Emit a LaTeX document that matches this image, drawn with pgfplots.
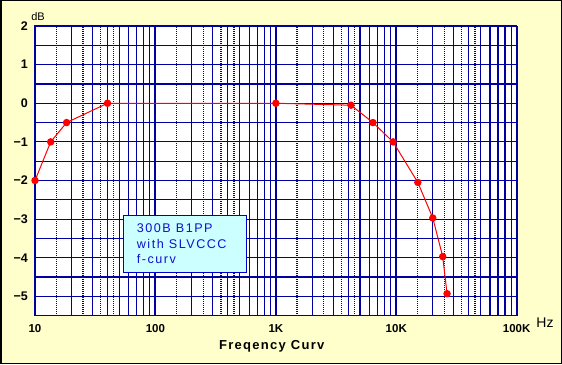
\documentclass[border=0pt]{standalone}
\usepackage{pgfplots}
\pgfplotsset{compat=1.18}
\usepackage{fontspec}
\setmainfont{Liberation Sans}
\newfontfamily\boxfont{Liberation Sans}[LetterSpace=12]
\newfontfamily\labfont{Liberation Sans}[LetterSpace=10]
\definecolor{bg}{HTML}{FFFFCC}
\definecolor{gridblue}{HTML}{0000A0}
\definecolor{boxfill}{HTML}{CCFFFF}
\definecolor{boxblue}{HTML}{0000CC}
\definecolor{boxtext}{HTML}{1010D0}
\begin{document}
\begin{tikzpicture}[x=1pt,y=1pt]
\fill[bg] (0,0) rectangle (562,364);
\draw[black, line width=1.5pt] (0.75,0.75) rectangle (561.25,363.25);
\begin{axis}[
  at={(35pt,48.3pt)}, anchor=south west,
  scale only axis, width=481.7pt, height=289.7pt,
  xmode=log, xmin=10, xmax=100000, ymin=-5.5, ymax=2,
  clip=false,
  axis background/.style={fill=white},
  axis line style={draw=gridblue, line width=1.5pt},
  xtick={10,100,1000,10000,100000},
  xticklabels={10,100,1K,10K,100K},
  minor xtick={20,30,40,50,60,70,80,90,200,300,400,500,600,700,800,900,2000,3000,4000,5000,6000,7000,8000,9000,20000,30000,40000,50000,60000,70000,80000,90000},
  ytick={-5,-4,-3,-2,-1,0,1,2},
  yticklabels={−5,−4,−3,−2,−1,0,1,2},
  minor ytick={-4.5,-3.5,-2.5,-1.5,-0.5,0.5,1.5},
  grid=both,
  major x grid style={draw=gridblue, line width=2pt},
  minor x grid style={draw=gridblue, line width=1.1pt},
  major y grid style={draw=gridblue, line width=1.2pt},
  minor y grid style={draw=gridblue, line width=1.2pt},
  major tick length=0pt, minor tick length=0pt,
  extra x ticks={15,25,35,45,150,250,350,450,1500,2500,3500,4500,15000,25000,35000,45000},
  extra x tick labels={},
  extra x tick style={grid=major, major x grid style={draw=gridblue, line width=1.2pt, dash pattern=on 1pt off 1pt}, major grid style={draw=gridblue, line width=1.2pt, dash pattern=on 1pt off 1pt}},
  xticklabel style={font=\bfseries\fontsize{11.5}{12}\selectfont, inner sep=0pt, yshift=-8.5pt},
  yticklabel style={font=\bfseries\fontsize{12.5}{13}\selectfont, inner sep=0pt, xshift=-7pt},
]
\addplot[color=red, line width=1pt, mark=*, mark size=3.2pt, mark options={fill=red, draw=red}] coordinates {
  (10,-2) (13.5,-1) (18.3,-0.5) (40,0) (1000,0) (4200,-0.05) (6400,-0.5) (9400,-1.0)
  (15100,-2.05) (20100,-2.97) (24300,-3.97) (26400,-4.93)
};
\end{axis}
\draw[boxblue, fill=boxfill, line width=1pt] (123.3,91.7) rectangle (246.7,148.3);
\node[anchor=base west, inner sep=0pt, text=boxtext, font=\boxfont\fontsize{12.6}{16}\selectfont] at (136.7,131.7) {300B B1PP};
\node[anchor=base west, inner sep=0pt, text=boxtext, font=\boxfont\fontsize{12.6}{16}\selectfont] at (136.7,115.7) {with SLVCCC};
\node[anchor=base west, inner sep=0pt, text=boxtext, font=\boxfont\fontsize{12.6}{16}\selectfont] at (136.7,100) {f-curv};
\node[inner sep=0pt, font=\fontsize{11}{12}\selectfont] at (38,347) {dB};
\node[inner sep=0pt, font=\fontsize{14}{15}\selectfont] at (545,41.4) {Hz};
\node[anchor=base, inner sep=0pt, font=\labfont\bfseries\fontsize{13}{14}\selectfont] at (271.7,14.3) {Freqency Curv};
\end{tikzpicture}
\end{document}
